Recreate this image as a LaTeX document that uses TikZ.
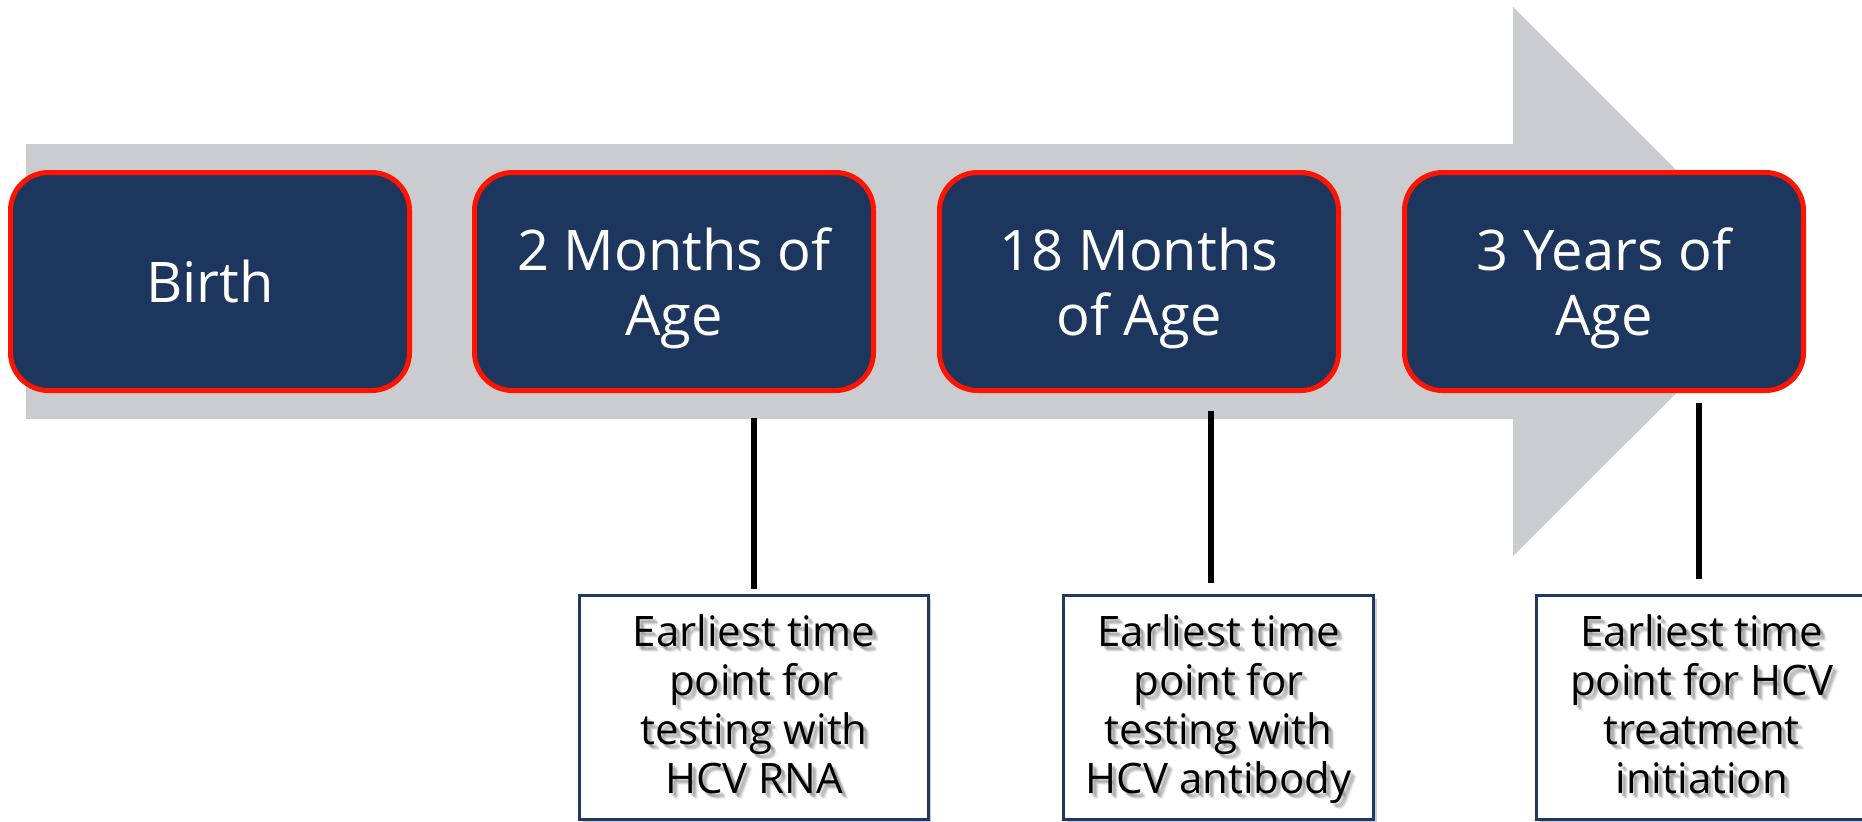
\documentclass[tikz,border=0pt]{standalone}
\usepackage{fontspec}
\setmainfont{Open Sans}
\usetikzlibrary{shadows}

\definecolor{shaftgray}{RGB}{203,204,208}
\definecolor{navyfill}{RGB}{29,54,93}
\definecolor{ringred}{RGB}{255,20,0}
\definecolor{framenavy}{RGB}{31,56,100}

% caption text with a soft grey shadow behind it
\newcommand{\shadedcaption}[3]{%
  \foreach \dx/\dy in {1.5/-1.5,2/-2,1/-1.5,1.5/-1,2.5/-2,2/-2.5,2.5/-2.5,3/-3}{
    \node[notetext, text=black, opacity=0.055] at ([xshift=\dx pt,yshift=\dy pt]#2) {#3};
  }
  \node[notetext] (#1) at (#2) {#3};
}

\begin{document}
\begin{tikzpicture}[x=0.5pt,y=-0.5pt,
  stage/.style={rounded corners=19pt, fill=navyfill, draw=ringred,
    line width=2.5pt, minimum width=199.5pt, minimum height=109pt,
    inner sep=0pt, outer sep=0pt, text=white, align=center, text depth=0pt,
    font=\fontsize{28}{32.5}\selectfont},
  notebox/.style={draw=framenavy, line width=1.7pt, fill=white,
    inner sep=0pt, outer sep=0pt, anchor=north west,
    drop shadow={shadow xshift=1.5pt, shadow yshift=-1.5pt, opacity=0.2, fill=black}},
  notetext/.style={align=center, inner sep=0pt, anchor=north, text=black,
    font=\fontsize{21}{24.5}\selectfont},
  stem/.style={line width=2.75pt, draw=black}]

\useasboundingbox (0,0) rectangle (1862,821);
\clip (0,0) rectangle (1862,821);

% grey timeline arrow
\fill[shaftgray] (26,144) -- (1513,144) -- (1513,7) -- (1788,281.5)
  -- (1513,556) -- (1513,419) -- (26,419) -- cycle;

% milestones along the arrow
\node[stage] (birth) at (210,281.5) {Birth};
\node[stage] (m2)    at (674,281.5) {2 Months of\\Age};
\node[stage] (m18)   at (1139,281.5) {18 Months\\of Age};
\node[stage] (y3)    at (1604,281.5) {3 Years of\\Age};

% note frames
\node[notebox, minimum width=174.3pt, minimum height=112pt] (n1) at (579.7,595.7) {};
\node[notebox, minimum width=155pt,   minimum height=112pt] (n2) at (1063.7,595.7) {};
\node[notebox, minimum width=165pt,   minimum height=112pt] (n3) at (1536.7,595.7) {};

% note texts
\coordinate (n1top) at ([yshift=-9.3pt]n1.north);
\coordinate (n2top) at ([yshift=-9.3pt]n2.north);
\coordinate (n3top) at ([yshift=-9.3pt]n3.north);
\shadedcaption{n1t}{n1top}{Earliest time\\point for\\testing with\\HCV RNA}
\shadedcaption{n2t}{n2top}{Earliest time\\point for\\testing with\\HCV antibody}
\shadedcaption{n3t}{n3top}{Earliest time\\point for HCV\\treatment\\initiation}

% stems from the arrow down to the notes
\coordinate (s1) at (754,418);
\coordinate (s2) at (1211,411);
\coordinate (s3) at (1699,403);
\draw[stem] (s1) -- ([yshift=3.3pt]s1 |- n1.north);
\draw[stem] (s2) -- ([yshift=6.3pt]s2 |- n2.north);
\draw[stem] (s3) -- ([yshift=8.3pt]s3 |- n3.north);
\end{tikzpicture}
\end{document}
